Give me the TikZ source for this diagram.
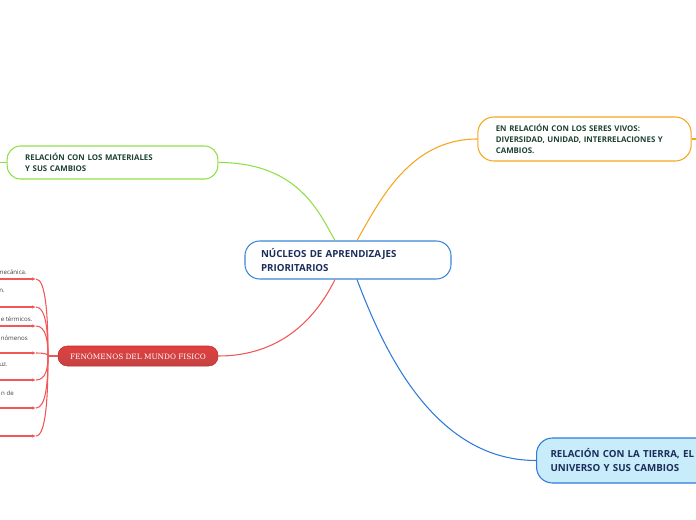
\documentclass[tikz,border=0pt]{standalone}
\usepackage{fontspec}
\setmainfont{Open Sans}
\newfontfamily\slabfont{DejaVu Serif}
\usetikzlibrary{arrows.meta,positioning}

\definecolor{centreline}{HTML}{3B86D6}
\definecolor{centretext}{HTML}{1B2D5B}
\definecolor{greenline}{HTML}{8FE046}
\definecolor{orangeline}{HTML}{F7A41F}
\definecolor{leaftext}{HTML}{1E4232}
\definecolor{skyfill}{HTML}{C9ECFB}
\definecolor{skyline}{HTML}{2F7BDA}
\definecolor{redfill}{HTML}{E0403F}
\definecolor{reddark}{HTML}{BE2E2E}
\definecolor{redline}{HTML}{F25757}

\begin{document}
\begin{tikzpicture}[
      x=0.75pt, y=-0.75pt,
      topic/.style={draw, rounded corners=10pt, align=left, line width=0.8pt,
                    inner ysep=0pt, text=leaftext,
                    font=\bfseries\fontsize{5.9pt}{8.4pt}\selectfont},
      main/.style={topic, draw=centreline, text=centretext, rounded corners=11pt,
                   font=\bfseries\fontsize{7.3pt}{11pt}\selectfont},
      frag/.style={anchor=east, inner sep=0pt, text=black!75,
                   font=\fontsize{4.6pt}{5pt}\selectfont},
      link/.style={line width=0.8pt},
      twig/.style={link, draw=redline},
    ]
    \useasboundingbox (0,0) rectangle (696,520);
    \clip (0,0) rectangle (696,520);

    % central topic
    \node[main, text width=130.5pt, inner xsep=12pt, minimum height=28.5pt]
         (nuc) at (348,260) {NÚCLEOS DE APRENDIZAJES\\PRIORITARIOS};

    % main branches
    \node[topic, draw=greenline, text width=131pt, inner xsep=13.5pt,
          minimum height=24.75pt] (mat) at (112.5,162.5)
         {RELACIÓN CON LOS MATERIALES\\Y SUS CAMBIOS};
    \node[topic, draw=orangeline, text width=133pt, inner xsep=13.5pt,
          minimum height=33pt, rounded corners=12pt] (viv) at (584.5,139)
         {EN RELACIÓN CON LOS SERES VIVOS:\\DIVERSIDAD, UNIDAD, INTERRELACIONES Y\\CAMBIOS.};
    \node[main, draw=skyline, fill=skyfill, anchor=west, text width=170pt,
          inner xsep=10.5pt, minimum height=33.75pt, rounded corners=12pt,
          font=\bfseries\fontsize{7.3pt}{10.5pt}\selectfont] (tie) at (536,460.5)
         {RELACIÓN CON LA TIERRA, EL\\UNIVERSO Y SUS CAMBIOS};
    \node[draw=reddark, top color=redfill, bottom color=reddark!90, text=white,
          rounded corners=7pt, minimum width=120pt, minimum height=15pt,
          inner sep=0pt, font=\slabfont\fontsize{5.5pt}{6pt}\selectfont]
         (fen) at (138,356) {FENÓMENOS DEL MUNDO FISICO};

    % connectors from the centre
    \draw[link, greenline] (nuc.north) ++(-13,0) coordinate (ng)
         .. controls (320,215) and (300,162.5) .. (mat.east);
    \draw[link, orangeline] (nuc.north) ++(9,0) coordinate (no)
         .. controls (380,200) and (410,139) .. (viv.west);
    \draw[link, redline] (nuc.south) ++(-13,0) coordinate (nr)
         .. controls (310,330) and (270,356) .. (fen.east);
    \draw[link, skyline] (nuc.south) ++(9,0) coordinate (nb)
         .. controls (380,340) and (430,460.5) .. (tie.west);

    % stubs to hidden children
    \coordinate (gw) at (0,162.5);
    \draw[link, greenline] (gw) -- (mat.west);
    \coordinate (oe) at (696,139);
    \draw[link, orangeline] (viv.east) -- (oe);

    % sub-topics of the red branch
    \coordinate (junc) at (48,356);
    \draw[twig] (fen.west) -- (junc);
    \foreach \y [count=\i] in {279,307,326,353,380,408,436} {
      \coordinate (w\i) at (0,\y);
      \coordinate (e\i) at (36,\y);
      \draw[twig, -{Latex[length=3pt,width=2.6pt]}] (w\i) -- (e\i);
      \draw[twig] (e\i) .. controls (46,\y) and (48,{(\y+356)/2}) .. (junc);
    }

    % visible ends of their texts
    \node[frag] (t1) at (27,272) {mecánica.};
    \node[frag] (t2) at (5,291) {n.};
    \node[frag, anchor=west] (t3) at (0.5,319) {e térmicos.};
    \node[frag, anchor=west] (t4) at (0.5,338) {nómenos};
    \node[frag] (t5) at (8,365) {uz.};
    \node[frag] (t6) at (14,393) {n de};
  \end{tikzpicture}
\end{document}
